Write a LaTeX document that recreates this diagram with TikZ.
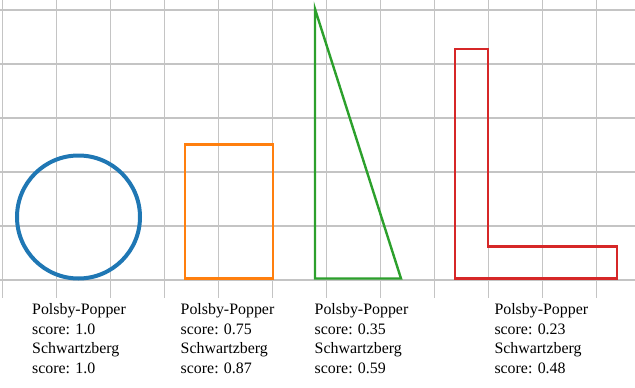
\documentclass[tikz,border=0pt]{standalone}
\usepackage{fontspec}
\setmainfont{Liberation Serif}
\usepackage{tikz}
\definecolor{gridgray}{HTML}{C4C4C4}
\definecolor{pltblue}{HTML}{1F77B4}
\definecolor{pltorange}{HTML}{FF7F0E}
\definecolor{pltgreen}{HTML}{2CA02C}
\definecolor{pltred}{HTML}{D62728}

\begin{document}
\begin{tikzpicture}[
  x=1pt,y=-1pt,
  gridline/.style={draw=gridgray,line width=1.3pt},
  shapeline/.style={line width=2.4pt,line join=miter},
  score/.style={anchor=north west,inner sep=0pt,align=left,font=\fontsize{15.9}{19.6}\selectfont}
]
\useasboundingbox (0,0) rectangle (635,388);
% grid
\foreach \i in {0,...,11} \draw[gridline] (2.7+54*\i,0) -- (2.7+54*\i,298);
\foreach \j in {0,...,5} \draw[gridline] (0,10+54*\j) -- (635,10+54*\j);
% shapes
\draw[pltblue,line width=4pt] (78.5,217) circle[radius=61.5];
\draw[pltorange,shapeline] (185,144.3) rectangle (272.7,278.3);
\draw[pltgreen,shapeline] (315,9) -- (315,278.5) -- (401,278.5) -- cycle;
\draw[pltred,shapeline] (455,49) -- (487.7,49) -- (487.7,246.5) -- (616.7,246.5)
  -- (616.7,278.3) -- (455,278.3) -- cycle;
% scores
\node[score] (circ) at (32,303.5) {Polsby-Popper\\score: 1.0\\Schwartzberg\\score: 1.0};
\node[score] (rect) at (180.5,303.5) {Polsby-Popper\\score: 0.75\\Schwartzberg\\score: 0.87};
\node[score] (tri) at (314.5,303.5) {Polsby-Popper\\score: 0.35\\Schwartzberg\\score: 0.59};
\node[score] (ell) at (494.3,303.5) {Polsby-Popper\\score: 0.23\\Schwartzberg\\score: 0.48};
\end{tikzpicture}
\end{document}
